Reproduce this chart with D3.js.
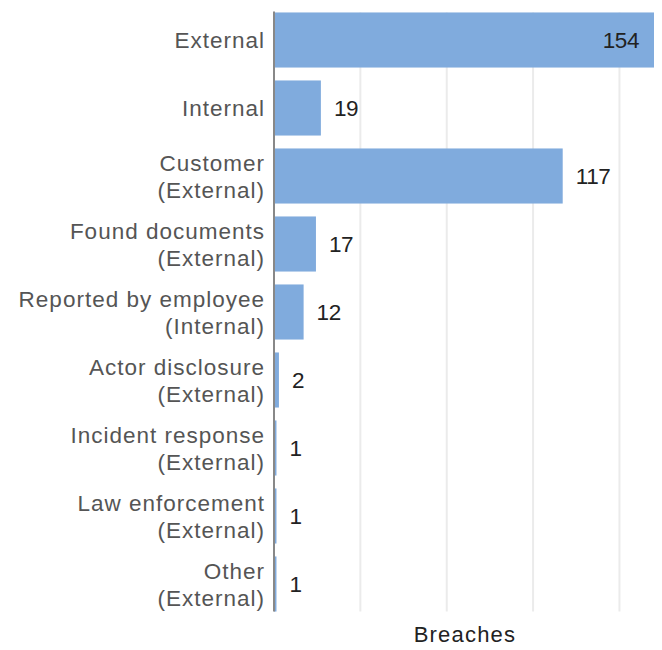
<!DOCTYPE html>
<html lang="en">
<head>
<meta charset="UTF-8">
<title>Breach discovery</title>
<script src="https://d3js.org/d3.v7.min.js"></script>
<style>
  body { margin: 0; background: #fff; }
  svg text { font-family: "Liberation Sans", Arial, sans-serif; }
  .cat text { fill: #555; font-size: 22.5px; letter-spacing: 1px; }
  .val { fill: #222; font-size: 22.5px; letter-spacing: -0.4px; }
  .grid line { stroke: #ebebeb; stroke-width: 2px; }
</style>
</head>
<body>
<svg id="chart"></svg>
<script>
  // data
  var categories = [
    "External", "Internal", "Customer\n(External)", "Found documents\n(External)",
    "Reported by employee\n(Internal)", "Actor disclosure\n(External)",
    "Incident response\n(External)", "Law enforcement\n(External)", "Other\n(External)"
  ];
  var values = [154, 19, 117, 17, 12, 2, 1, 1, 1];
  var gridTicks = [35, 70, 105, 140];
  var axisTitle = "Breaches";

  var W = 662, H = 650;
  var margin = { top: 6, right: 8, bottom: 32, left: 274 };
  var width = W - margin.left - margin.right,
      height = H - margin.top - margin.bottom;

  var svg = d3.select("#chart").attr("width", W).attr("height", H)
    .append("g")
    .attr("transform", "translate(" + margin.left + "," + margin.top + ")");

  var x = d3.scaleLinear().domain([0, 154]).range([0, 380]);
  var y = d3.scaleBand().domain(categories).range([0, height]).paddingInner(0.19).paddingOuter(0.095);

  var top0 = y(categories[0]), bot = y(categories[categories.length - 1]) + y.bandwidth();

  // gridlines
  svg.append("g").attr("class", "grid")
    .selectAll("line").data(gridTicks).enter().append("line")
    .attr("x1", function(d) { return x(d); })
    .attr("x2", function(d) { return x(d); })
    .attr("y1", top0).attr("y2", bot);

  // bars
  svg.selectAll("rect.bar").data(values).enter().append("rect")
    .attr("class", "bar")
    .attr("x", x(0))
    .attr("y", function(d, i) { return y(categories[i]); })
    .attr("width", function(d) { return x(d) - x(0); })
    .attr("height", y.bandwidth())
    .attr("fill", "#80abdd");

  // value labels
  svg.selectAll("text.val").data(values).enter().append("text")
    .attr("class", "val")
    .attr("x", function(d) { return d > 140 ? x(d) - 15 : x(d) + 13; })
    .attr("text-anchor", function(d) { return d > 140 ? "end" : "start"; })
    .attr("y", function(d, i) { return y(categories[i]) + y.bandwidth() / 2; })
    .attr("dy", "0.37em")
    .text(function(d) { return d; });

  // category axis
  var yAxis = svg.append("g").attr("class", "cat")
    .call(d3.axisLeft(y).tickSize(0).tickPadding(10).tickFormat(""));
  yAxis.select(".domain").remove();
  yAxis.selectAll(".tick").each(function(d) {
    var lines = d.split("\n");
    var t = d3.select(this).append("text")
      .attr("x", -9).attr("text-anchor", "end");
    lines.forEach(function(s, k) {
      t.append("tspan").attr("x", -9)
        .attr("y", (k - (lines.length - 1) / 2) * 27)
        .attr("dy", "0.36em")
        .text(s);
    });
  });

  svg.append("line")
    .attr("x1", 0).attr("x2", 0).attr("y1", top0 - 1).attr("y2", bot)
    .attr("stroke", "#888").attr("stroke-width", 2);

  svg.append("text")
    .attr("x", 191).attr("y", height + 24)
    .attr("text-anchor", "middle")
    .attr("fill", "#222").style("font-size", "22px").style("letter-spacing", "1.2px")
    .text(axisTitle);
</script>
</body>
</html>
